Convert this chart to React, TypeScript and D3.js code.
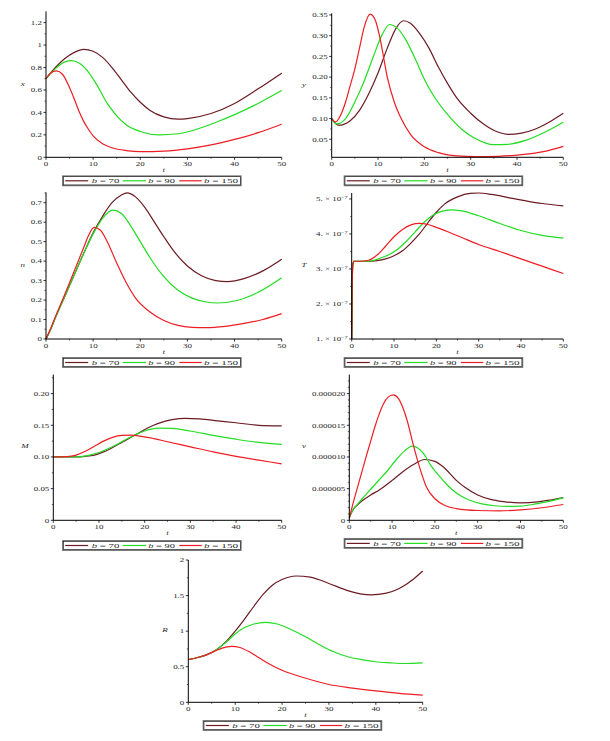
import * as d3 from "d3";

type Pt = [number, number];

const W = 610;
const H = 741;

// legend entries and colours
const bValues = ["70", "90", "150"];
const colors = ["#6b1b23", "#22dd22", "#ee1d23"];
const tTicks = [0, 10, 20, 30, 40, 50];
const tMinor = [5, 15, 25, 35, 45];

// x(t)
const x70: Pt[] = [[0, 0.7], [2, 0.8], [4, 0.88], [6, 0.935], [8, 0.962], [10, 0.945], [12, 0.89], [14, 0.8], [16, 0.69], [18, 0.58], [20, 0.49], [22, 0.42], [25, 0.36], [28, 0.34], [30, 0.345], [35, 0.39], [40, 0.48], [45, 0.61], [50, 0.75]];
const x90: Pt[] = [[0, 0.7], [2, 0.79], [4, 0.85], [5.5, 0.862], [7, 0.84], [9, 0.76], [11, 0.63], [13, 0.48], [15, 0.37], [17, 0.29], [20, 0.23], [24, 0.2], [28, 0.21], [32, 0.25], [36, 0.31], [40, 0.38], [45, 0.48], [50, 0.595]];
const x150: Pt[] = [[0, 0.7], [1, 0.75], [2.2, 0.77], [3.5, 0.74], [5, 0.62], [6, 0.52], [7, 0.41], [8, 0.32], [9, 0.25], [10, 0.19], [12, 0.12], [14, 0.085], [17, 0.06], [20, 0.05], [25, 0.055], [30, 0.075], [35, 0.11], [40, 0.16], [45, 0.22], [50, 0.295]];

// y(t)
const y70: Pt[] = [[0, 0.1], [1.5, 0.084], [4, 0.095], [6, 0.12], [8, 0.16], [10, 0.21], [12, 0.27], [14, 0.32], [15.5, 0.336], [17, 0.33], [19, 0.305], [21, 0.27], [23, 0.225], [25, 0.185], [27, 0.15], [30, 0.113], [33, 0.085], [36, 0.067], [38, 0.062], [41, 0.065], [44, 0.075], [47, 0.092], [50, 0.113]];
const y90: Pt[] = [[0, 0.1], [1, 0.087], [3, 0.1], [5, 0.14], [7, 0.19], [9, 0.25], [11, 0.305], [12.5, 0.327], [14, 0.32], [16, 0.29], [18, 0.245], [20, 0.195], [22, 0.155], [25, 0.11], [28, 0.075], [31, 0.052], [35, 0.037], [38, 0.038], [42, 0.048], [46, 0.067], [50, 0.091]];
const y150: Pt[] = [[0, 0.1], [0.8, 0.092], [2, 0.11], [3, 0.14], [4, 0.18], [5, 0.22], [6, 0.27], [7, 0.32], [8.3, 0.352], [9.5, 0.335], [10.5, 0.29], [12, 0.2], [13.5, 0.14], [15, 0.1], [17, 0.062], [20, 0.032], [23, 0.018], [27, 0.01], [31, 0.008], [36, 0.009], [41, 0.013], [46, 0.021], [50, 0.033]];

// n(t)
const n70: Pt[] = [[0, 0], [1, 0.05], [2, 0.11], [4, 0.22], [6, 0.33], [8, 0.44], [10, 0.545], [12, 0.63], [14, 0.7], [16, 0.74], [17.2, 0.751], [19, 0.73], [21, 0.675], [23, 0.6], [25, 0.525], [27, 0.455], [30, 0.375], [33, 0.325], [36, 0.3], [38.5, 0.295], [42, 0.31], [46, 0.35], [50, 0.41]];
const n90: Pt[] = [[0, 0], [1, 0.05], [2, 0.11], [4, 0.22], [6, 0.33], [8, 0.44], [10, 0.54], [12, 0.62], [14.2, 0.662], [16, 0.645], [18, 0.58], [20, 0.5], [22, 0.42], [25, 0.32], [28, 0.25], [31, 0.21], [34, 0.19], [36.5, 0.185], [40, 0.195], [45, 0.24], [50, 0.315]];
const n150: Pt[] = [[0, 0], [1, 0.055], [2, 0.115], [4, 0.23], [6, 0.35], [8, 0.47], [9, 0.53], [10.2, 0.573], [11.5, 0.56], [13, 0.5], [15, 0.39], [17, 0.29], [19, 0.21], [22, 0.14], [25, 0.095], [28, 0.07], [31, 0.06], [34, 0.058], [38, 0.065], [42, 0.08], [46, 0.1], [50, 0.13]];

// T(t), in units of 1e-7
const T70: Pt[] = [[0, 1], [0.1, 2.3], [0.25, 3.1], [0.5, 3.22], [4, 3.22], [6, 3.24], [8, 3.29], [10, 3.38], [12, 3.52], [14, 3.74], [16, 4.0], [18, 4.32], [20, 4.62], [22, 4.86], [25, 5.06], [28, 5.16], [30, 5.17], [33, 5.13], [37, 5.04], [41, 4.95], [45, 4.87], [50, 4.8]];
const T90: Pt[] = [[0, 1], [0.1, 2.3], [0.25, 3.1], [0.5, 3.22], [3, 3.22], [5, 3.24], [7, 3.32], [9, 3.42], [11, 3.58], [13, 3.8], [15, 4.06], [17, 4.32], [19, 4.52], [21, 4.64], [23.5, 4.69], [26, 4.66], [30, 4.52], [35, 4.3], [40, 4.1], [45, 3.96], [50, 3.88]];
const T150: Pt[] = [[0, 1], [0.1, 2.3], [0.25, 3.1], [0.5, 3.22], [2, 3.22], [4, 3.25], [6, 3.4], [8, 3.65], [10, 3.92], [12, 4.13], [14, 4.26], [16, 4.3], [18, 4.27], [20, 4.19], [23, 4.05], [26, 3.9], [30, 3.7], [35, 3.5], [40, 3.29], [45, 3.08], [50, 2.87]];

// M(t)
const M70: Pt[] = [[0, 0.1], [5, 0.1], [7, 0.101], [9, 0.103], [11, 0.108], [13, 0.115], [15, 0.123], [17, 0.131], [19, 0.139], [21, 0.147], [23, 0.153], [26, 0.159], [29, 0.161], [32, 0.16], [36, 0.157], [40, 0.154], [45, 0.15], [50, 0.149]];
const M90: Pt[] = [[0, 0.1], [4, 0.1], [6, 0.1005], [8, 0.103], [10, 0.107], [12, 0.113], [14, 0.12], [16, 0.128], [18, 0.135], [20, 0.141], [23, 0.1455], [26, 0.145], [30, 0.141], [35, 0.134], [40, 0.128], [45, 0.123], [50, 0.12]];
const M150: Pt[] = [[0, 0.1], [3, 0.1005], [5, 0.103], [7, 0.109], [9, 0.117], [11, 0.125], [13, 0.131], [15, 0.134], [17, 0.1345], [19, 0.133], [22, 0.129], [25, 0.124], [30, 0.116], [35, 0.108], [40, 0.101], [45, 0.095], [50, 0.089]];

// v(t), in units of 1e-6
const v70: Pt[] = [[0, 0.4], [0.5, 1.2], [1, 1.8], [2, 2.5], [3, 3.1], [5, 4.0], [7, 4.8], [10, 6.3], [12, 7.4], [15, 8.8], [17.6, 9.6], [20, 9.3], [22, 8.4], [25, 6.3], [27, 5.2], [30, 4.0], [33, 3.3], [36, 2.95], [40, 2.75], [44, 2.9], [47, 3.2], [50, 3.57]];
const v90: Pt[] = [[0, 0.4], [0.5, 1.2], [1, 1.8], [2, 2.6], [3, 3.4], [5, 4.9], [7, 6.4], [9, 7.9], [11, 9.6], [13, 11.0], [14.7, 11.7], [16, 11.4], [17.5, 10.4], [19, 8.7], [21, 7.0], [23, 5.5], [25, 4.3], [28, 3.2], [31, 2.6], [34, 2.3], [37, 2.2], [40, 2.25], [43, 2.5], [46, 2.9], [50, 3.55]];
const v150: Pt[] = [[0, 0.3], [0.5, 1.7], [1, 3.0], [2, 5.4], [3, 7.8], [4, 10.2], [5, 12.5], [6, 14.8], [7, 16.8], [8, 18.4], [9, 19.4], [10.3, 19.8], [11.5, 19.2], [12.5, 17.8], [13.5, 15.8], [15, 11.8], [16.5, 8.2], [18, 5.3], [20, 3.4], [22.5, 2.3], [25, 1.85], [30, 1.55], [35, 1.5], [40, 1.65], [45, 1.98], [50, 2.5]];

// R(t)
const R70: Pt[] = [[0, 0.6], [2, 0.63], [4, 0.67], [6, 0.74], [8, 0.85], [10, 1.0], [12, 1.17], [14, 1.35], [16, 1.52], [18, 1.65], [20, 1.725], [23, 1.775], [26, 1.76], [30, 1.67], [34, 1.57], [37, 1.52], [39, 1.51], [42, 1.53], [45, 1.6], [48, 1.73], [50, 1.845]];
const R90: Pt[] = [[0, 0.6], [2, 0.63], [4, 0.67], [6, 0.74], [8, 0.84], [10, 0.96], [12, 1.05], [14, 1.1], [16.5, 1.124], [19, 1.1], [22, 1.02], [25, 0.92], [28, 0.81], [31, 0.71], [34, 0.64], [37, 0.6], [40, 0.57], [43, 0.555], [46, 0.545], [50, 0.555]];
const R150: Pt[] = [[0, 0.6], [2, 0.63], [4, 0.67], [6, 0.73], [8, 0.775], [9.3, 0.787], [11, 0.77], [13, 0.71], [15, 0.63], [17, 0.55], [20, 0.45], [23, 0.38], [26, 0.32], [30, 0.25], [35, 0.2], [40, 0.16], [45, 0.125], [50, 0.1]];

// y tick values and labels per panel
const xTicks = [0, 0.2, 0.4, 0.6, 0.8, 1, 1.2];
const xTickLabels = ["0", "0.2", "0.4", "0.6", "0.8", "1", "1.2"];
const yTicks = [0.05, 0.1, 0.15, 0.2, 0.25, 0.3, 0.35];
const yTickLabels = ["0.05", "0.10", "0.15", "0.20", "0.25", "0.30", "0.35"];
const nTicks = [0, 0.1, 0.2, 0.3, 0.4, 0.5, 0.6, 0.7];
const nTickLabels = ["0", "0.1", "0.2", "0.3", "0.4", "0.5", "0.6", "0.7"];
const TTicks = [1, 2, 3, 4, 5];
const TTickLabels = ["1.", "2.", "3.", "4.", "5."];
const MTicks = [0, 0.05, 0.1, 0.15, 0.2];
const MTickLabels = ["0", "0.05", "0.10", "0.15", "0.20"];
const vTicks = [0, 5, 10, 15, 20];
const vTickLabels = ["0", "0.000005", "0.000010", "0.000015", "0.000020"];
const RTicks = [0, 0.5, 1, 1.5, 2];
const RTickLabels = ["0", "0.5", "1", "1.5", "2"];

type Panel = {
  name: string;
  data: Pt[][];
  ticks: number[];
  labels: string[];
  minorPer: number;
  sci?: boolean;
  domain: [number, number];
  left: number;
  right: number;
  top: number;
  bottom: number;
  labelX: number;
  labelY: number;
  legX: number;
  legY: number;
};

const panels: Panel[] = [
  { name: "x", data: [x70, x90, x150], ticks: xTicks, labels: xTickLabels, minorPer: 1, domain: [0, 1.3], left: 46, right: 281.7, top: 11.4, bottom: 157.3, labelX: 22.7, labelY: 86, legX: 62.7, legY: 176 },
  { name: "y", data: [y70, y90, y150], ticks: yTicks, labels: yTickLabels, minorPer: 1, domain: [0.0066, 0.354], left: 331.7, right: 563.3, top: 13.3, bottom: 157.3, labelX: 304, labelY: 87, legX: 344.3, legY: 176 },
  { name: "n", data: [n70, n90, n150], ticks: nTicks, labels: nTickLabels, minorPer: 1, domain: [0, 0.753], left: 46, right: 281.7, top: 192.4, bottom: 339, labelX: 22.7, labelY: 266.5, legX: 62.7, legY: 357.7 },
  { name: "T", data: [T70, T90, T150], ticks: TTicks, labels: TTickLabels, minorPer: 1, sci: true, domain: [1, 5.17], left: 351.7, right: 563.3, top: 193, bottom: 339, labelX: 304, labelY: 266.5, legX: 344.3, legY: 357.7 },
  { name: "M", data: [M70, M90, M150], ticks: MTicks, labels: MTickLabels, minorPer: 1, domain: [0, 0.23], left: 53.3, right: 281.7, top: 374.6, bottom: 520.3, labelX: 25, labelY: 448, legX: 62.7, legY: 540.7 },
  { name: "v", data: [v70, v90, v150], ticks: vTicks, labels: vTickLabels, minorPer: 4, domain: [0, 23], left: 349.3, right: 563.3, top: 374.6, bottom: 520.3, labelX: 304, labelY: 447.5, legX: 344.3, legY: 538.6 },
  { name: "R", data: [R70, R90, R150], ticks: RTicks, labels: RTickLabels, minorPer: 1, domain: [0, 2], left: 188.3, right: 422.7, top: 560, bottom: 702.3, labelX: 165, labelY: 632, legX: 203.3, legY: 720.7 },
];

const FONT = "'Liberation Serif', 'DejaVu Serif', serif";
const TXT = "#2a2a2a";
const FS = 6.6;
const SX = 1.35; // Maple's labels are wide and squat

function Txt({
  x,
  y,
  anchor = "start",
  italic = false,
  children,
}: {
  x: number;
  y: number;
  anchor?: "start" | "middle" | "end";
  italic?: boolean;
  children: React.ReactNode;
}) {
  return (
    <text
      transform={`translate(${x},${y}) scale(${SX},1)`}
      textAnchor={anchor}
      fontSize={FS}
      fontStyle={italic ? "italic" : "normal"}
      fontFamily={FONT}
      fill={TXT}
    >
      {children}
    </text>
  );
}

function Legend({ x, y }: { x: number; y: number }) {
  const lines = [[2.5, 25.5], [60, 83.3], [116.6, 139]];
  const texts = [29, 85.6, 141.3];
  const widths = [27.6, 26.7, 34];
  return (
    <g transform={`translate(${x},${y})`}>
      <rect x={0} y={0} width={178.3} height={9.6} fill="#fff" stroke="#777" strokeWidth={1.3} />
      <rect x={0.7} y={0.7} width={176.9} height={8.2} fill="none" stroke="#111" strokeWidth={0.6} />
      {bValues.map((b, i) => (
        <g key={b}>
          <line x1={lines[i][0]} x2={lines[i][1]} y1={4.8} y2={4.8} stroke={colors[i]} strokeWidth={1.2} />
          <text
            x={texts[i]}
            y={7.2}
            fontSize={7}
            fontFamily={FONT}
            fill={TXT}
            textLength={widths[i]}
            lengthAdjust="spacingAndGlyphs"
          >
            <tspan fontStyle="italic">b</tspan> = {b}
          </text>
        </g>
      ))}
    </g>
  );
}

function Plot({ p }: { p: Panel }) {
  const xs = d3.scaleLinear().domain([0, 50]).range([p.left, p.right]);
  const ys = d3.scaleLinear().domain(p.domain).range([p.bottom, p.top]);
  const line = d3
    .line<Pt>()
    .x((d) => xs(d[0]))
    .y((d) => ys(d[1]))
    .curve(d3.curveMonotoneX);
  const step = p.ticks[1] - p.ticks[0];
  const sub = step / (p.minorPer + 1);
  const yMinor: number[] = [];
  for (let v = p.ticks[0] - step; v < p.domain[1]; v += step) {
    for (let k = 1; k <= p.minorPer; k++) {
      const m = v + k * sub;
      if (m > p.domain[0] && m < p.domain[1]) yMinor.push(m);
    }
  }

  return (
    <g>
      {p.data.map((d, i) => (
        <path key={i} d={line(d) ?? ""} fill="none" stroke={colors[i]} strokeWidth={1.2} />
      ))}
      {/* axes */}
      <line x1={p.left} x2={p.right} y1={p.bottom} y2={p.bottom} stroke="#000" strokeWidth={1} />
      <line x1={p.left} x2={p.left} y1={p.bottom} y2={p.top} stroke="#000" strokeWidth={1} />
      {tTicks.map((t) => (
        <g key={t}>
          <line x1={xs(t)} x2={xs(t)} y1={p.bottom} y2={p.bottom + 2.5} stroke="#000" strokeWidth={0.8} />
          <Txt x={xs(t)} y={p.bottom + 8.6} anchor="middle">
            {t}
          </Txt>
        </g>
      ))}
      {tMinor.map((t) => (
        <line key={t} x1={xs(t)} x2={xs(t)} y1={p.bottom} y2={p.bottom + 1.5} stroke="#000" strokeWidth={0.6} />
      ))}
      {p.ticks.map((t, i) => (
        <g key={t}>
          <line x1={p.left - 2.5} x2={p.left} y1={ys(t)} y2={ys(t)} stroke="#000" strokeWidth={0.8} />
          <Txt x={p.left - 4} y={ys(t) + 2.3} anchor="end">
            {p.sci ? (
              <>
                {p.labels[i]} × 10<tspan dy={-2.6} fontSize={4.6}>−7</tspan>
              </>
            ) : (
              p.labels[i]
            )}
          </Txt>
        </g>
      ))}
      {yMinor.map((t) => (
        <line key={t} x1={p.left - 1.5} x2={p.left} y1={ys(t)} y2={ys(t)} stroke="#000" strokeWidth={0.6} />
      ))}
      <Txt x={(p.left + p.right) / 2} y={p.bottom + 14.5} anchor="middle" italic>
        t
      </Txt>
      <Txt x={p.labelX} y={p.labelY} anchor="middle" italic>
        {p.name}
      </Txt>
      <Legend x={p.legX} y={p.legY} />
    </g>
  );
}

export default function App() {
  return (
    <svg
      width={W}
      height={H}
      viewBox={`0 0 ${W} ${H}`}
      style={{ position: "absolute", left: 0, top: 0, background: "#fff" }}
    >
      <rect width={W} height={H} fill="#fff" />
      {panels.map((p) => (
        <Plot key={p.name} p={p} />
      ))}
    </svg>
  );
}
